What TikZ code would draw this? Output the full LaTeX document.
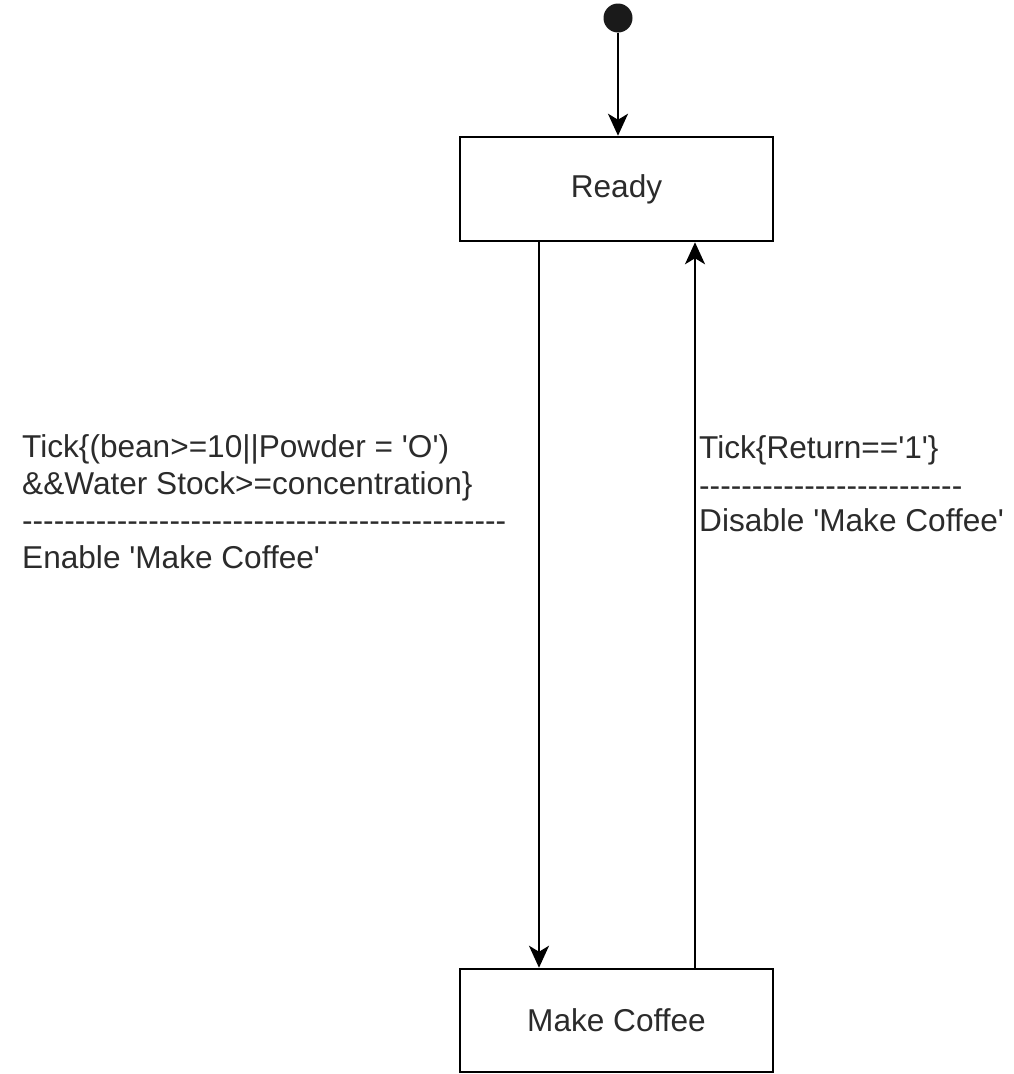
\documentclass[tikz,border=0pt]{standalone}
\usepackage{fontspec}
\setmainfont{Liberation Sans}[Ligatures=TeXOff]
\usetikzlibrary{arrows.meta}
\definecolor{txt}{HTML}{2B2B2B}
\definecolor{dot}{HTML}{1A1A1A}
\begin{document}
\begin{tikzpicture}[x=1pt,y=-1pt,
  every node/.style={font=\fontsize{31.6}{37}\selectfont, text=txt},
  statebox/.style={draw=black, line width=2.5pt, fill=white, minimum width=313pt, inner sep=0pt},
  lab/.style={anchor=base west, inner sep=0pt},
  conn/.style={draw=black, line width=2.3pt, -{Stealth[length=22pt, width=20pt, inset=6pt]}}]
\useasboundingbox (0,0) rectangle (1013,1074);
\node[circle, fill=dot, minimum size=29pt, inner sep=0pt] (init) at (618,18) {};
\node[statebox, minimum height=104pt] (ready) at (616.5,189) {Ready};
\node[statebox, minimum height=103pt] (coffee) at (616.5,1020.5) {Make Coffee};
\coordinate (dn) at (539,0);
\coordinate (up) at (695,0);
\draw[conn] (init) -- (init |- ready.north);
\draw[conn] (ready.south -| dn) -- (coffee.north -| dn);
\draw[conn] (coffee.north -| up) -- (ready.south -| up);
% left label
\node[lab] (l1) at (22,457) {Tick\{(bean>=10||Powder = 'O')};
\node[lab] (l2) at (22,494) {\&\&Water Stock>=concentration\}};
\node[lab] (l3) at (22,531) {----------------------------------------------};
\node[lab] (l4) at (22,568) {Enable 'Make Coffee'};
% right label
\node[lab] (r1) at (699,458) {Tick\{Return=='1'\}};
\node[lab] (r2) at (699,496) {-------------------------};
\node[lab] (r3) at (699,531) {Disable 'Make Coffee'};
\end{tikzpicture}
\end{document}
